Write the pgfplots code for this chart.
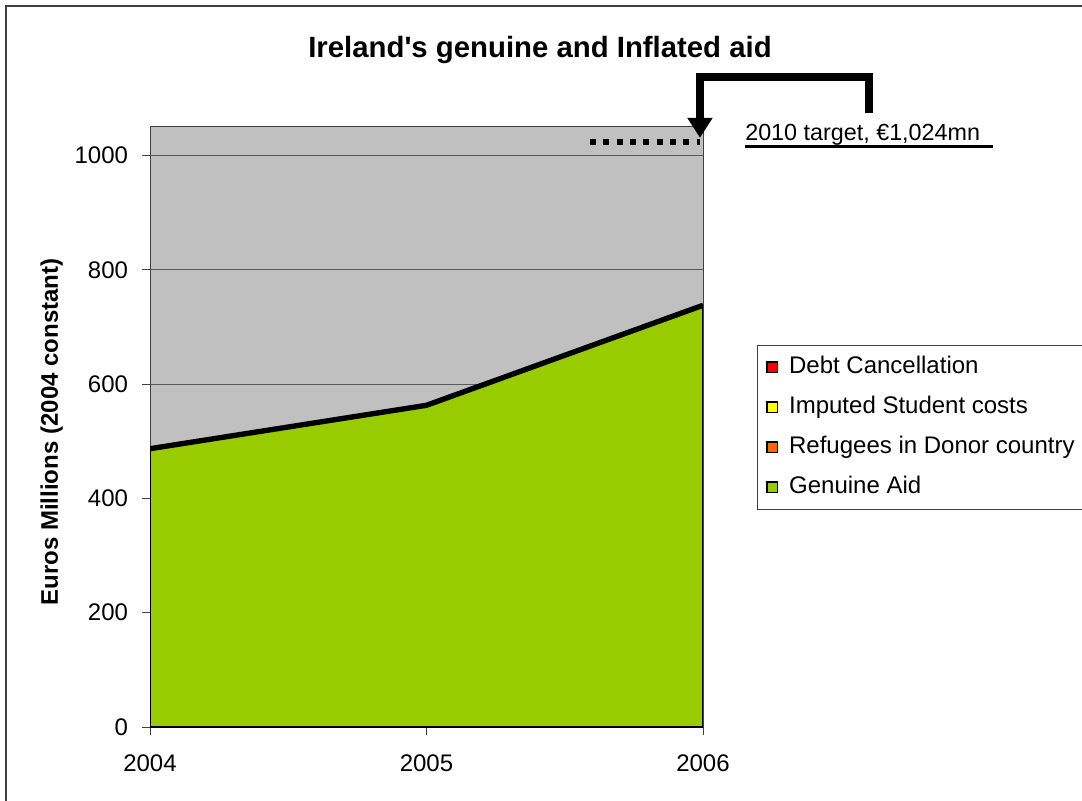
\documentclass[border=0pt]{standalone}
\usepackage{fontspec}
\setmainfont{Liberation Sans}
\usepackage{pgfplots}
\pgfplotsset{compat=1.18}
\usetikzlibrary{arrows.meta}
\definecolor{aidgreen}{HTML}{99CC00}
\definecolor{plotgray}{HTML}{C0C0C0}
\definecolor{frame}{HTML}{404040}
\definecolor{gridc}{HTML}{5A5A5A}
\definecolor{debtred}{HTML}{FF0000}
\definecolor{studyellow}{HTML}{FFFF00}
\definecolor{reforange}{HTML}{FF6600}
\begin{document}
\begin{tikzpicture}[x=0.75pt,y=0.75pt]
\path[use as bounding box, fill=white] (0,0) rectangle (1082,800);
\draw[frame, line width=1.5pt] (6,-20) -- (6,794) -- (1100,794);
\node[anchor=base, inner sep=0pt, font=\bfseries\fontsize{22}{26}\selectfont] at (540,742) {Ireland\textquotesingle s genuine and Inflated aid};
\begin{axis}[
  at={(112.5pt,54.75pt)}, anchor=south west,
  scale only axis, width=414.75pt, height=450pt,
  xmin=2004, xmax=2006, ymin=0, ymax=1050,
  xtick={2004,2005,2006}, xticklabels={2004,2005,2006},
  ytick={0,200,400,600,800,1000},
  /pgf/number format/1000 sep={},
  tick pos=left, tick align=outside, major tick length=6pt,
  tick style={color=frame, line width=0.75pt},
  axis line style={frame, line width=0.75pt},
  axis background/.style={fill=plotgray},
  ymajorgrids, major grid style={color=gridc, line width=0.75pt},
  /pgf/number format/assume math mode=true,
  ticklabel style={font=\fontsize{18}{22}\selectfont},
  yticklabel style={xshift=-7pt},
  xticklabel style={yshift=-11pt},
  ylabel={Euros Millions (2004 constant)},
  ylabel style={font=\bfseries\fontsize{18}{22}\selectfont, at={(axis description cs:-0.1664,0.4917)}, anchor=base, inner sep=0pt},
  legend style={at={(1.0976,0.6367)}, anchor=north west, draw=frame, line width=0.75pt, fill=white,
    font=\fontsize{18}{22}\selectfont, inner xsep=6.75pt, inner ysep=8pt, row sep=13pt, column sep=8pt,
    nodes={inner sep=0pt, text height=13pt, text depth=4pt}},
  legend cell align=left,
  legend image code/.code={\draw[#1, draw=black, line width=1pt] (0pt,-4pt) rectangle (8pt,4pt);},
]
\addplot[fill=aidgreen, draw=black, line width=1.2pt, forget plot] coordinates {(2004,487) (2005,563) (2006,738)} \closedcycle;
\addplot[black, line width=4pt, forget plot] coordinates {(2004,487) (2005,563) (2006,738)};
\addlegendimage{fill=debtred}\addlegendentry{Debt Cancellation}
\addlegendimage{fill=studyellow}\addlegendentry{Imputed Student costs}
\addlegendimage{fill=reforange}\addlegendentry{Refugees in Donor country}
\addlegendimage{fill=aidgreen}\addlegendentry{Genuine Aid}
\coordinate (P1) at (axis cs:2006.600,1074.5);
\coordinate (P2) at (axis cs:2006.600,1136.7);
\coordinate (P3) at (axis cs:2005.989,1136.7);
\coordinate (P4) at (axis cs:2005.989,1031);
\coordinate (D1) at (axis cs:2005.591,1024);
\coordinate (D2) at (axis cs:2005.990,1024);
\coordinate (T) at (axis cs:2006.152,1027);
\coordinate (U1) at (axis cs:2006.152,1015);
\coordinate (U2) at (axis cs:2007.049,1015);
\end{axis}
\draw[line width=6pt, line join=miter, -{Triangle[width=18pt,length=15pt]}] (P1) -- (P2) -- (P3) -- (P4);
\draw[line width=4.5pt, dash pattern=on 4.5pt off 5.5pt] (D1) -- (D2);
\node[anchor=base west, inner sep=0pt, font=\fontsize{17.5}{21}\selectfont] at (T) {2010 target, €1,024mn};
\draw[line width=2.25pt] (U1) -- (U2);
\end{tikzpicture}
\end{document}
